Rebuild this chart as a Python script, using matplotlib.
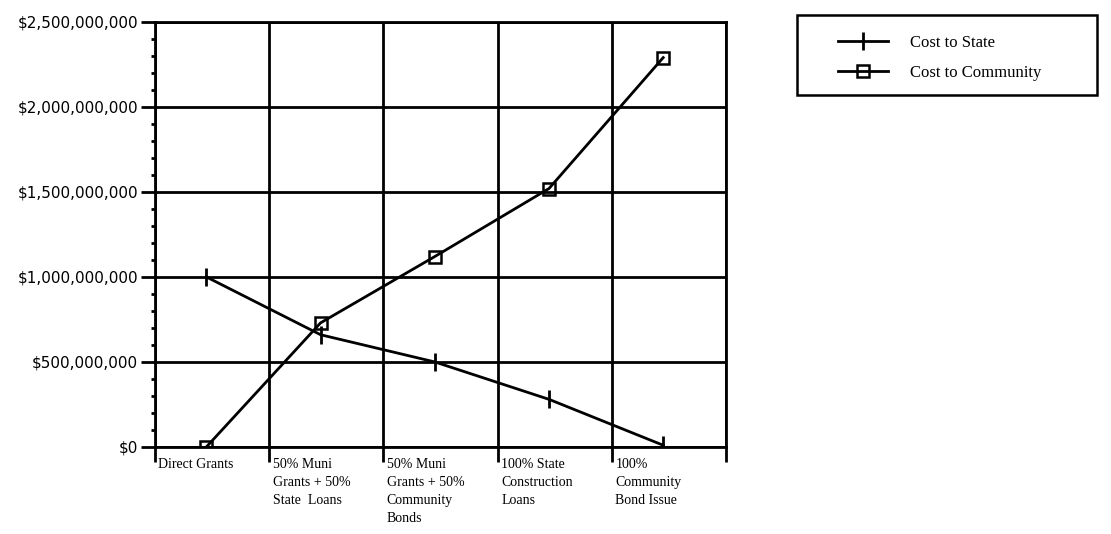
import matplotlib

matplotlib.use("Agg")
import matplotlib.pyplot as plt
import matplotlib.transforms as mtransforms
from matplotlib.patches import Rectangle
from matplotlib.ticker import FuncFormatter, MultipleLocator

CATEGORIES = [
    "Direct Grants",
    "50% Muni\nGrants + 50%\nState  Loans",
    "50% Muni\nGrants + 50%\nCommunity\nBonds",
    "100% State\nConstruction\nLoans",
    "100%\nCommunity\nBond Issue",
]
COST_STATE = [1.00e9, 0.66e9, 0.50e9, 0.28e9, 0.01e9]
COST_COMMUNITY = [0.0, 0.73e9, 1.12e9, 1.52e9, 2.29e9]

SERIF = "Liberation Serif"
SANS = "DejaVu Sans"

fig = plt.figure(figsize=(11.11, 5.34), dpi=100)
ax = fig.add_axes([0.1395, 0.163, 0.514, 0.796])

x = [i + 0.45 for i in range(len(CATEGORIES))]
ax.plot(x, COST_STATE, color="black", lw=2, marker="|", ms=13, mew=2,
        label="Cost to State")
ax.plot(x, COST_COMMUNITY, color="black", lw=2, marker="s", ms=8, mew=1.8,
        fillstyle="none", label="Cost to Community")

ax.set_xlim(0, len(CATEGORIES))
ax.set_ylim(0, 2.5e9)
ax.xaxis.set_major_locator(MultipleLocator(1))
ax.yaxis.set_major_locator(MultipleLocator(5e8))
ax.yaxis.set_minor_locator(MultipleLocator(1e8))
ax.yaxis.set_major_formatter(FuncFormatter(lambda v, _: f"${v:,.0f}"))
ax.set_xticklabels([])
ax.grid(True, which="major", color="black", lw=2)
ax.set_axisbelow(True)
for s in ax.spines.values():
    s.set_linewidth(2)
ax.tick_params(axis="y", which="major", length=10, width=2, pad=2,
               labelsize=11)
ax.tick_params(axis="y", which="minor", length=3, width=2)
ax.tick_params(axis="x", which="major", length=11, width=2)
for lab in ax.get_yticklabels():
    lab.set_fontfamily(SANS)

trans = mtransforms.blended_transform_factory(ax.transData, ax.transAxes)
for i, name in enumerate(CATEGORIES):
    ax.text(i + 0.03, -0.025, name, transform=trans, ha="left", va="top",
            fontsize=10, family=SERIF, linespacing=1.5)

# legend box, drawn as its own frame
fig.patches.append(Rectangle((797 / 1111, 1 - 95 / 534), 300 / 1111, 80 / 534,
                             transform=fig.transFigure, fill=False,
                             edgecolor="black", lw=1.8))
fig.legend(loc="upper left", bbox_to_anchor=(838 / 1111, 1 - 35 / 534),
           frameon=False, prop={"family": SERIF, "size": 12},
           handlelength=3.0, handletextpad=1.3, labelspacing=0.85,
           borderpad=0, borderaxespad=0)

fig.savefig("out.png", dpi=100)
